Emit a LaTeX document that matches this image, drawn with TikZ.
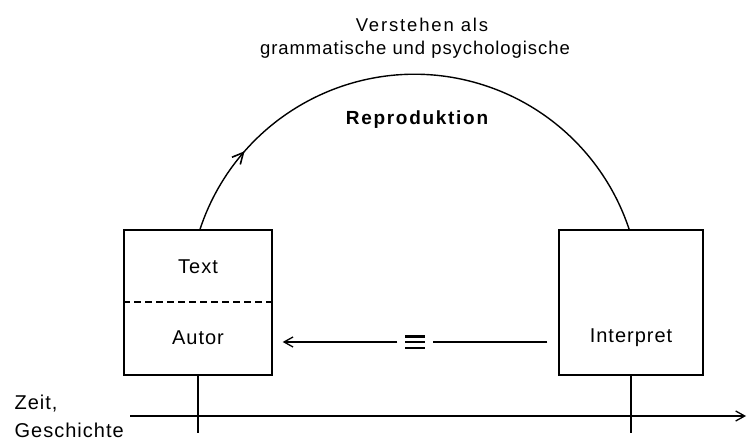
\documentclass[tikz,border=0pt]{standalone}
\usepackage{fontspec}
\setmainfont{Liberation Sans}
\newfontfamily\spaced[LetterSpace=5]{Liberation Sans}
\newfontfamily\spacedwide[LetterSpace=10]{Liberation Sans}
\newfontfamily\spacedbold[LetterSpace=9]{Liberation Sans Bold}
\usetikzlibrary{arrows.meta,decorations.markings}
\tikzset{mytip/.tip={Straight Barb[length=9pt,width=10pt]},
  arctip/.tip={Straight Barb[length=11pt,width=11pt,line width=1.6pt]}}
\begin{document}
\begin{tikzpicture}[x=1pt,y=1pt,
  line width=1.3pt,
  box/.style={draw,line width=1.4pt,minimum width=148pt,minimum height=145pt,inner sep=0pt},
  lbl/.style={font=\spaced\fontsize{20}{22}\selectfont,inner sep=0pt},
  toptxt/.style={font=\spaced\fontsize{18.5}{21}\selectfont,inner sep=0pt},
  sidetxt/.style={font=\spaced\fontsize{20}{22}\selectfont,anchor=base west,inner sep=0pt}
]
\useasboundingbox (0,0) rectangle (747,441);
% boxes
\node[box] (lbox) at (198,138.5) {};
\node[box,minimum width=144pt] (rbox) at (631,138.5) {};
\node[lbl] (text) at (198,174) {Text};
\node[lbl] (autor) at (198,103) {Autor};
\node[lbl] (interp) at (631,103) {Interpret};
\coordinate (dl) at (lbox.west |- 0,139);
\coordinate (dr) at (lbox.east |- 0,139);
\draw[dash pattern=on 7pt off 4pt,line width=1.4pt] (dl) -- (dr);
% equivalence arrow
\node[inner sep=0pt,minimum width=34pt,minimum height=14pt] (eq) at (415,99) {};
\draw[shorten <=11pt] (rbox.west |- eq.center) -- (eq.east);
\draw[-{mytip}] (eq.west) -- ([xshift=10pt]lbox.east |- eq.center);
\draw[line width=2.8pt] ([xshift=-10pt,yshift=5.5pt]eq.center) -- ++(20pt,0);
\draw[line width=2.8pt] ([xshift=-10pt,yshift=0pt]eq.center) -- ++(20pt,0);
\draw[line width=2.8pt] ([xshift=-10pt,yshift=-6pt]eq.center) -- ++(20pt,0);
% time axis
\coordinate (axL) at (130,25);
\coordinate (axR) at (746,25);
\draw[-{mytip}] (axL) -- (axR);
\coordinate (tl) at (lbox.south |- 0,8);
\coordinate (tr) at (rbox.south |- 0,8);
\draw (lbox.south) -- (tl);
\draw (rbox.south) -- (tr);
\node[sidetxt] (zeit) at (14,31) {Zeit,};
\node[sidetxt] (gesch) at (14,3) {Geschichte};
% arc
\coordinate (a1) at (lbox.north -| 200,0);
\draw[line width=1.4pt,postaction={decorate},decoration={markings,mark=at position 0.16 with {\arrow{arctip}}}]
  (a1) arc[start angle=161.7,end angle=18.3,radius=226pt];
% top labels
\node[toptxt,font=\spacedwide\fontsize{18.5}{21}\selectfont] (v1) at (422,416) {Verstehen als};
\node[toptxt] (v2) at (415,391) {grammatische und psychologische};
\node[font=\spacedbold\fontsize{19}{21}\selectfont,inner sep=0pt] (repro) at (417,321) {Reproduktion};
\end{tikzpicture}
\end{document}
